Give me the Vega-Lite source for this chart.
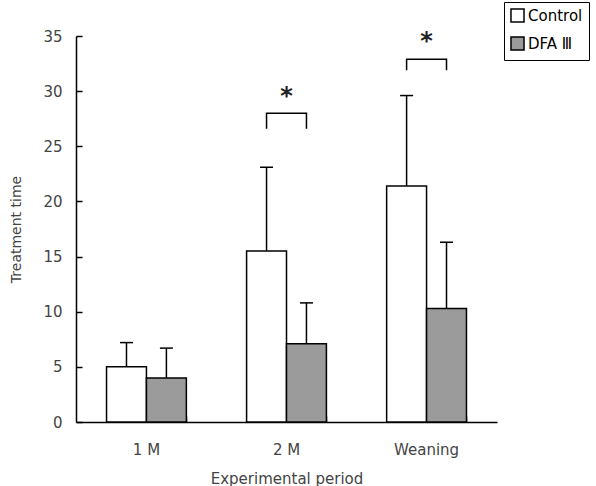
{
  "$schema": "https://vega.github.io/schema/vega-lite/v6.json",
  "autosize": "none",
  "width": 421,
  "height": 386,
  "padding": {"left": 76, "top": 36, "right": 99, "bottom": 64},
  "background": "white",
  "config": {
    "view": {"stroke": null},
    "font": "DejaVu Sans",
    "axis": {"labelFont": "DejaVu Sans", "titleFont": "DejaVu Sans", "labelColor": "#444", "titleColor": "#444", "titleFontWeight": "normal", "domainColor": "black", "tickColor": "black", "domainWidth": 1.5, "tickWidth": 1.5, "grid": false}
  },
  "datasets": {
    "bars": [
      {"period": "1 M", "group": "Control", "value": 5.0, "upper": 7.2},
      {"period": "1 M", "group": "DFA Ⅲ", "value": 4.0, "upper": 6.7},
      {"period": "2 M", "group": "Control", "value": 15.5, "upper": 23.1},
      {"period": "2 M", "group": "DFA Ⅲ", "value": 7.1, "upper": 10.8},
      {"period": "Weaning", "group": "Control", "value": 21.4, "upper": 29.6},
      {"period": "Weaning", "group": "DFA Ⅲ", "value": 10.3, "upper": 16.3}
    ],
    "brackets": [
      {"period": "2 M", "group": "Control", "y": 26.6, "ord": 1},
      {"period": "2 M", "group": "Control", "y": 28.0, "ord": 2},
      {"period": "2 M", "group": "DFA Ⅲ", "y": 28.0, "ord": 3},
      {"period": "2 M", "group": "DFA Ⅲ", "y": 26.6, "ord": 4},
      {"period": "Weaning", "group": "Control", "y": 31.9, "ord": 1},
      {"period": "Weaning", "group": "Control", "y": 32.9, "ord": 2},
      {"period": "Weaning", "group": "DFA Ⅲ", "y": 32.9, "ord": 3},
      {"period": "Weaning", "group": "DFA Ⅲ", "y": 31.9, "ord": 4}
    ],
    "stars": [
      {"period": "2 M", "y": 29.9, "label": "*"},
      {"period": "Weaning", "y": 34.9, "label": "*"}
    ]
  },
  "resolve": {"axis": {"x": "independent", "y": "independent"}},
  "layer": [
    {
      "data": {"name": "bars"},
      "mark": {"type": "bar", "stroke": "black", "strokeWidth": 1.5},
      "encoding": {
        "x": {
          "field": "period", "type": "nominal", "sort": ["1 M", "2 M", "Weaning"],
          "scale": {"paddingInner": 0.43, "paddingOuter": 0.218},
          "axis": {"title": "Experimental period", "labelAngle": 0, "labelFontSize": 15, "titleFontSize": 15, "labelPadding": 20, "titlePadding": 14, "ticks": false}
        },
        "xOffset": {"field": "group", "type": "nominal", "scale": {"domain": ["Control", "DFA Ⅲ"], "paddingInner": 0, "paddingOuter": 0}},
        "y": {"field": "value", "type": "quantitative", "scale": {"domain": [0, 35]},
          "axis": {"title": "Treatment time", "values": [0, 5, 10, 15, 20, 25, 30, 35], "labelFontSize": 15, "titleFontSize": 14, "ticks": false, "labelPadding": 14, "titlePadding": 19}},
        "fill": {"field": "group", "type": "nominal", "scale": {"domain": ["Control", "DFA Ⅲ"], "range": ["white", "#9b9b9b"]},
          "legend": {"title": null, "orient": "none", "legendX": 428, "legendY": -34, "strokeColor": "black", "padding": 6, "symbolType": "square", "symbolSize": 170, "symbolStrokeColor": "black", "symbolStrokeWidth": 1.5, "labelFontSize": 15, "labelColor": "black", "rowPadding": 7, "symbolOffset": 0, "labelOffset": 3, "fillColor": "white"}}
      }
    },
    {
      "data": {"name": "bars"},
      "mark": {"type": "rule", "stroke": "black", "strokeWidth": 1.5},
      "encoding": {
        "x": {"field": "period", "type": "nominal", "sort": ["1 M", "2 M", "Weaning"],
          "axis": {"orient": "top", "offset": -386, "labels": false, "domain": false, "title": null, "tickBand": "extent", "tickSize": 6}},
        "xOffset": {"field": "group", "type": "nominal", "scale": {"domain": ["Control", "DFA Ⅲ"]}},
        "y": {"field": "value", "type": "quantitative",
          "axis": {"orient": "right", "offset": -421, "labels": false, "domain": false, "title": null, "values": [0, 5, 10, 15, 20, 25, 30, 35], "tickSize": 6}},
        "y2": {"field": "upper"}
      }
    },
    {
      "data": {"name": "bars"},
      "mark": {"type": "tick", "color": "black", "thickness": 1.5, "size": 13, "opacity": 1},
      "encoding": {
        "x": {"field": "period", "type": "nominal", "sort": ["1 M", "2 M", "Weaning"], "axis": null},
        "xOffset": {"field": "group", "type": "nominal", "scale": {"domain": ["Control", "DFA Ⅲ"]}},
        "y": {"field": "upper", "type": "quantitative", "axis": null}
      }
    },
    {
      "data": {"name": "brackets"},
      "mark": {"type": "line", "color": "black", "strokeWidth": 1.5},
      "encoding": {
        "x": {"field": "period", "type": "nominal", "sort": ["1 M", "2 M", "Weaning"], "axis": null},
        "xOffset": {"field": "group", "type": "nominal", "scale": {"domain": ["Control", "DFA Ⅲ"]}},
        "y": {"field": "y", "type": "quantitative", "axis": null},
        "detail": {"field": "period"},
        "order": {"field": "ord"}
      }
    },
    {
      "data": {"name": "stars"},
      "mark": {"type": "text", "fontSize": 24, "fontWeight": "bold", "color": "#222", "baseline": "middle", "dy": 5},
      "encoding": {
        "x": {"field": "period", "type": "nominal", "sort": ["1 M", "2 M", "Weaning"], "axis": null},
        "y": {"field": "y", "type": "quantitative", "axis": null},
        "text": {"field": "label"}
      }
    }
  ]
}
